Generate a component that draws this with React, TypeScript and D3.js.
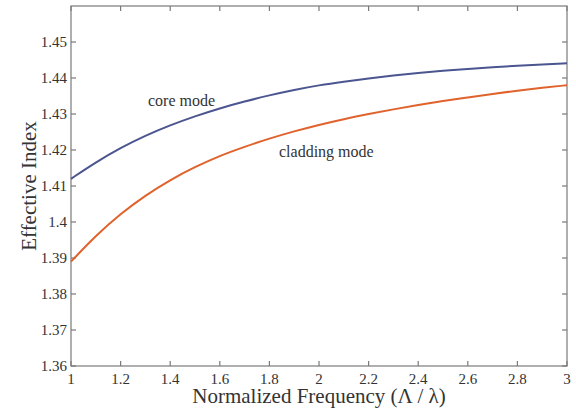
import React from "react";
import * as d3 from "d3";

const freq = [1.0, 1.1, 1.2, 1.3, 1.4, 1.5, 1.6, 1.7, 1.8, 1.9, 2.0, 2.1, 2.2, 2.3, 2.4, 2.5, 2.6, 2.7, 2.8, 2.9, 3.0];
const coreMode = [1.412, 1.4166, 1.4206, 1.424, 1.4269, 1.4294, 1.4316, 1.4335, 1.4352, 1.4367, 1.438, 1.439, 1.4399, 1.4407, 1.4414, 1.442, 1.4425, 1.443, 1.4434, 1.4438, 1.4441];
const claddingMode = [1.389, 1.3962, 1.4023, 1.4074, 1.4117, 1.4153, 1.4184, 1.4209, 1.4232, 1.4252, 1.427, 1.4286, 1.43, 1.4313, 1.4325, 1.4336, 1.4346, 1.4356, 1.4365, 1.4373, 1.438];
const xTicks = [1, 1.2, 1.4, 1.6, 1.8, 2, 2.2, 2.4, 2.6, 2.8, 3];
const yTicks = [1.36, 1.37, 1.38, 1.39, 1.4, 1.41, 1.42, 1.43, 1.44, 1.45];

const W = 576, H = 411;
const L = 71, R = 567, T = 6, B = 366;
const FONT = "Liberation Serif, Tinos, Times New Roman, DejaVu Serif, serif";

export default function App() {
  const x = d3.scaleLinear().domain([1, 3]).range([L, R]);
  const y = d3.scaleLinear().domain([1.36, 1.46]).range([B, T]);
  const line = (vals: number[]) =>
    d3.line<number>().x((_, i) => x(freq[i])).y((v) => y(v)).curve(d3.curveBasis)(vals) || "";
  const tk = 5;
  const frame = "#7a7a7a";
  const txt = { fontFamily: FONT, fill: "#333" } as React.CSSProperties;
  return (
    <svg width={W} height={H} style={{ position: "absolute", left: 0, top: 0, background: "#fff" }}>
      <rect x={0} y={0} width={W} height={H} fill="#fff" />
      <g stroke={frame} strokeWidth={1.2} fill="none">
        <rect x={L} y={T} width={R - L} height={B - T} />
        {xTicks.map((t) => (
          <g key={"x" + t}>
            <line x1={x(t)} x2={x(t)} y1={B} y2={B - tk} />
            <line x1={x(t)} x2={x(t)} y1={T} y2={T + tk} />
          </g>
        ))}
        {yTicks.map((t) => (
          <g key={"y" + t}>
            <line x1={L} x2={L + tk} y1={y(t)} y2={y(t)} />
            <line x1={R} x2={R - tk} y1={y(t)} y2={y(t)} />
          </g>
        ))}
      </g>
      <path d={line(coreMode)} fill="none" stroke="#4b5590" strokeWidth={2} />
      <path d={line(claddingMode)} fill="none" stroke="#e0622c" strokeWidth={2} />
      <g style={{ ...txt, fontSize: 15 }}>
        {xTicks.map((t) => (
          <text key={"xl" + t} x={x(t)} y={B + 18} textAnchor="middle">
            {String(t)}
          </text>
        ))}
        {yTicks.map((t) => (
          <text key={"yl" + t} x={L - 4} y={y(t)} dy="0.35em" textAnchor="end">
            {String(t)}
          </text>
        ))}
      </g>
      <text x={(L + R) / 2} y={403} textAnchor="middle" style={{ ...txt, fontSize: 21 }}>
        Normalized Frequency (Λ / λ)
      </text>
      <text
        transform={`translate(36, ${(T + B) / 2}) rotate(-90)`}
        textAnchor="middle"
        style={{ ...txt, fontSize: 21 }}
      >
        Effective Index
      </text>
      <text x={148} y={106} style={{ ...txt, fontSize: 16 }}>
        core mode
      </text>
      <text x={279} y={157} style={{ ...txt, fontSize: 16 }}>
        cladding mode
      </text>
    </svg>
  );
}
